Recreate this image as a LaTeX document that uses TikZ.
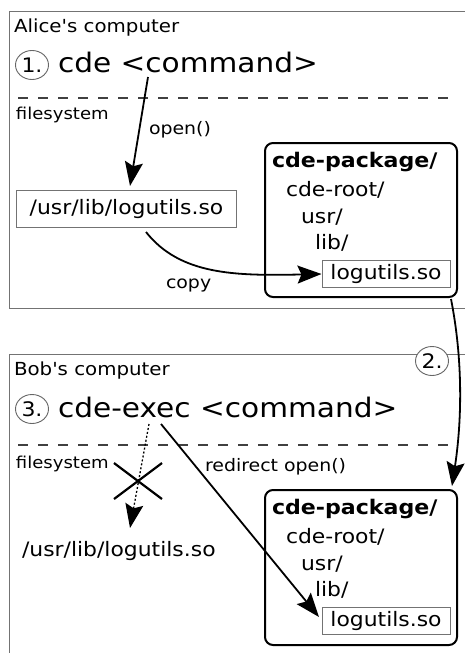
\documentclass[tikz,border=0pt]{standalone}
\usepackage{fontspec}
\setmainfont{DejaVu Sans}[FakeStretch=1.1,Ligatures=TeXOff]
\usetikzlibrary{arrows.meta,shapes.geometric,calc}
\newcommand\fsz[1]{\fontsize{#1}{#1}\selectfont}
\begin{document}
\begin{tikzpicture}[x=1pt,y=-1pt,
  frame/.style={draw=black!55, line width=1pt},
  sepline/.style={draw=black!75, line width=1.1pt, dash pattern=on 10pt off 10pt},
  txt/.style={anchor=base west, inner sep=0pt, outer sep=0pt},
  bigtxt/.style={txt, font=\fsz{26.9}},
  headtxt/.style={txt, font=\fsz{18}},
  lbltxt/.style={txt, font=\fsz{17.2}},
  fstxt/.style={txt, font=\fsz{16.4}},
  treetxt/.style={txt, font=\fsz{19.9}},
  pkgtxt/.style={txt, font=\fsz{20.1}\bfseries},
  numcirc/.style={ellipse, draw=black!60, line width=0.9pt, fill=white, minimum width=33pt, minimum height=29pt, inner sep=0pt, font=\fsz{20}},
  filebox/.style={draw=black!55, line width=1pt, inner sep=0pt, font=\fsz{19.9}},
  pkgbox/.style={draw=black, line width=2pt, rounded corners=8pt},
  arr/.style={-{Stealth[length=24pt,width=18pt,inset=4pt]}, line width=1.8pt},
  dotarr/.style={arr, dash pattern=on 2pt off 2pt, line width=1.3pt},
  xmark/.style={line width=2.2pt}
]
\useasboundingbox (0,0) rectangle (465,653);
\clip (0,0) rectangle (465,653);
\fill[white] (0,0) rectangle (465,653);

% ---------- Alice ----------
\draw[frame] (9,11) rectangle (490,308);
\node[headtxt] (aliceT) at (14,32) {Alice's computer};
\node[numcirc] (n1) at (32,65) {1.};
\node[bigtxt] (cmdA) at (58,72) {cde <command>};
\draw[sepline] (18,98) -- (452,98);
\node[fstxt] (fsA) at (16,119) {filesystem};
\node[lbltxt] (openT) at (149,134) {open()};
\node[filebox, minimum width=220pt, minimum height=37pt, anchor=north west] (pathA) at (16,190) {/usr/lib/logutils.so};
\node[lbltxt] (copyT) at (166,288) {copy};

\draw[pkgbox] (265,143) rectangle (457,297);
\node[pkgtxt] (pkgA) at (272,167) {cde-package/};
\node[treetxt] (rootA) at (286,196) {cde-root/};
\node[treetxt] (usrA) at (301,223) {usr/};
\node[treetxt] (libdA) at (315,249) {lib/};
\node[filebox, minimum width=128pt, minimum height=27pt, anchor=north west] (libA) at (321.5,260) {logutils.so};

\coordinate (s1) at (148,77);
\coordinate (t1) at (130,186);
\draw[arr] (s1) -- (t1);
\coordinate (c1) at (146,232);
\draw[arr] (c1) .. controls (180,275) and (235,276) .. (libA.west);

% ---------- Bob ----------
\draw[frame] (9,354) rectangle (490,700);
\node[headtxt] (bobT) at (14,375) {Bob's computer};
\node[numcirc] (n3) at (32,409) {3.};
\node[bigtxt] (cmdB) at (58,417) {cde-exec <command>};
\draw[sepline] (18,445) -- (452,445);
\node[fstxt] (fsB) at (16,468) {filesystem};
\node[lbltxt] (redirT) at (205,471) {redirect open()};
\node[treetxt] (pathB) at (22,556) {/usr/lib/logutils.so};

\draw[pkgbox] (265,490) rectangle (457,645);
\node[pkgtxt] (pkgB) at (272,514) {cde-package/};
\node[treetxt] (rootB) at (286,543) {cde-root/};
\node[treetxt] (usrB) at (301,570) {usr/};
\node[treetxt] (libdB) at (315,596) {lib/};
\node[filebox, minimum width=128pt, minimum height=27pt, anchor=north west] (libB) at (321.5,607) {logutils.so};

\coordinate (s2) at (149,424);
\coordinate (t2) at (130,528);
\draw[dotarr] (s2) -- (t2);
\coordinate (xc) at (138,481);
\draw[xmark] ($(xc)+(-24,-18)$) -- ($(xc)+(24,18)$);
\draw[xmark] ($(xc)+(-24,18)$) -- ($(xc)+(24,-18)$);
\coordinate (s3) at (161,424);
\coordinate (t3) at (319,617);
\draw[arr] (s3) -- (t3);

% ---------- transfer ----------
\coordinate (s4) at (451,299);
\coordinate (t4) at (452,486);
\draw[arr] (s4) .. controls (463,360) and (462,420) .. (t4);
\node[numcirc] (n2) at (432,361) {2.};
\end{tikzpicture}
\end{document}
